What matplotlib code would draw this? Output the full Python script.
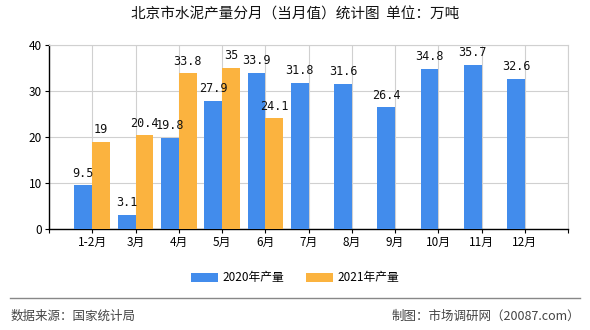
import numpy as np
import matplotlib.pyplot as plt
from matplotlib.lines import Line2D

plt.rcParams['font.family'] = ['Noto Sans CJK SC', 'DejaVu Sans']

# ==============================
# Data (万吨)
# ==============================
months = ['1-2月', '3月', '4月', '5月', '6月', '7月', '8月', '9月', '10月', '11月', '12月']
output_2020 = [9.5, 3.1, 19.8, 27.9, 33.9, 31.8, 31.6, 26.4, 34.8, 35.7, 32.6]
output_2021 = [19, 20.4, 33.8, 35, 24.1]
series_names = ['2020年产量', '2021年产量']

blue = '#428CEC'
orange = '#FBB33F'

fig = plt.figure(figsize=(5.9, 3.3), dpi=100)
ax = fig.add_axes([0.083, 0.306, 0.880, 0.558])

x = np.arange(1, len(months) + 1)
w = 0.41
ax.bar(x - w / 2, output_2020, width=w, color=blue, label=series_names[0], zorder=3)
x21 = x[:len(output_2021)]
ax.bar(x21 + w / 2, output_2021, width=w, color=orange, label=series_names[1], zorder=3)

def fmt(v):
    return f'{v:g}'

# value labels above each bar
for xi, v in zip(x, output_2020):
    ax.text(xi - w / 2, v + 1.2, fmt(v), ha='center', va='bottom', fontsize=8.5,
            family='DejaVu Sans Mono', color='#111111', zorder=4)
for xi, v in zip(x21, output_2021):
    ax.text(xi + w / 2, v + 1.2, fmt(v), ha='center', va='bottom', fontsize=8.5,
            family='DejaVu Sans Mono', color='#111111', zorder=4)

ax.set_xlim(0, 12)
ax.set_ylim(0, 40)
ax.set_yticks([0, 10, 20, 30, 40])
ax.set_xticks(np.arange(0, 13))
ax.set_xticklabels([''] + months + [''], fontsize=8.5)
ax.tick_params(axis='y', labelsize=8.5, length=3, pad=2)
ax.tick_params(axis='x', length=3, pad=2)
ax.grid(True, color='#d0d0d0', linewidth=0.8, zorder=0)
for s in ['top', 'right']:
    ax.spines[s].set_color('#d0d0d0')
for s in ['left', 'bottom']:
    ax.spines[s].set_color('black')
    ax.spines[s].set_linewidth(1)

fig.text(0.5, 0.955, '北京市水泥产量分月（当月值）统计图  单位：万吨', ha='center', va='center',
         fontsize=10.5, color='#111111')

fig.legend(loc='center', bbox_to_anchor=(0.5, 0.158), ncol=2, frameon=False, fontsize=8.5,
           handlelength=2.3, handleheight=0.8, columnspacing=1.8, handletextpad=0.4)

fig.add_artist(Line2D([0.017, 0.983], [0.097, 0.097], color='#888888', linewidth=1))
fig.text(0.017, 0.042, '数据来源：国家统计局', ha='left', va='center', fontsize=9, color='#444444')
fig.text(0.983, 0.042, '制图：市场调研网（20087.com）', ha='right', va='center', fontsize=9, color='#444444')

fig.savefig('out.png', dpi=100)
